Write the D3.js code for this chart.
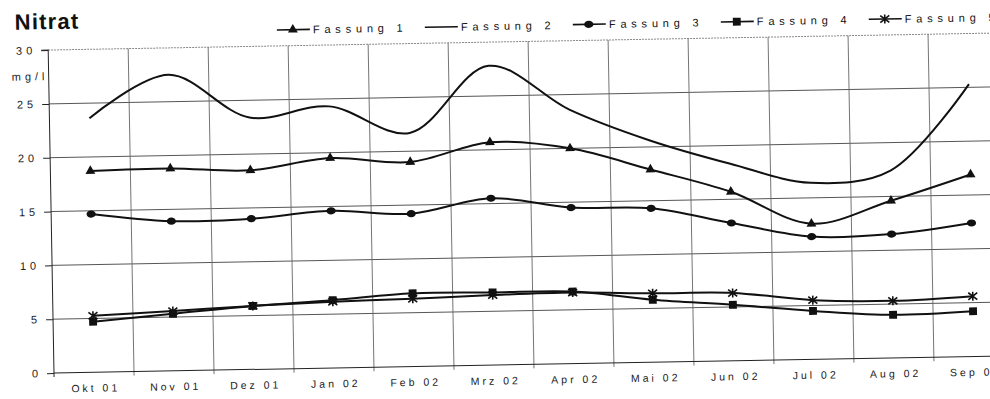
<!DOCTYPE html>
<html>
<head>
<meta charset="utf-8">
<script src="https://cdn.jsdelivr.net/npm/d3@7"></script>
<style>
    body { margin: 0; background: #fff; }
    svg { display: block; font-family: "Liberation Sans", Arial, sans-serif; }
</style>
</head>
<body>
<div id="chart"></div>
<script>
// month categories (x axis)
const months = ["Okt 01", "Nov 01", "Dez 01", "Jan 02", "Feb 02", "Mrz 02",
                "Apr 02", "Mai 02", "Jun 02", "Jul 02", "Aug 02", "Sep 02"];

// nitrate values in mg/l
const fassung1 = [18.7, 18.8, 18.5, 19.5, 19.0, 20.7, 20.0, 17.9, 15.7, 12.6, 14.6, 16.9];
const fassung2 = [23.6, 27.5, 23.4, 24.3, 21.7, 27.8, 23.6, 20.6, 18.3, 16.4, 17.4, 25.3];
const fassung3 = [14.7, 13.9, 14.0, 14.6, 14.2, 15.5, 14.5, 14.3, 12.8, 11.4, 11.5, 12.4];
const fassung4 = [4.7, 5.3, 5.9, 6.3, 6.8, 6.75, 6.7, 5.8, 5.2, 4.5, 4.0, 4.2];
const fassung5 = [5.25, 5.55, 5.9, 6.15, 6.3, 6.5, 6.6, 6.4, 6.3, 5.5, 5.3, 5.6];

const yTicks = [0, 5, 10, 15, 20, 25, 30];

const series = [
    { name: "Fassung 1", values: fassung1, marker: "triangle" },
    { name: "Fassung 2", values: fassung2, marker: "none" },
    { name: "Fassung 3", values: fassung3, marker: "circle" },
    { name: "Fassung 4", values: fassung4, marker: "square" },
    { name: "Fassung 5", values: fassung5, marker: "star" }
];

const width = 990, height = 399;
const x0 = 54, y0 = 373; // axis origin (the scan is tilted a bit around here)

const svg = d3.select("#chart").append("svg")
    .attr("width", width)
    .attr("height", height);

// whole sheet is rotated slightly, like the scanned page
const g = svg.append("g")
    .attr("transform", `rotate(-1.03, ${x0}, ${y0})`);

const x = d3.scaleBand()
    .domain(months)
    .range([x0, x0 + 960])
    .padding(0);

const y = d3.scaleLinear()
    .domain([0, 30])
    .range([y0, 50]);

// title
g.append("text")
    .attr("x", 21)
    .attr("y", 29)
    .attr("font-size", 22)
    .attr("font-weight", "bold")
    .attr("letter-spacing", 1.2)
    .attr("fill", "#111")
    .text("Nitrat");

// horizontal grid lines
g.append("g")
    .selectAll("line")
    .data(yTicks.filter(d => d > 0))
    .join("line")
    .attr("x1", x0)
    .attr("x2", x0 + 960)
    .attr("y1", d => y(d))
    .attr("y2", d => y(d))
    .attr("stroke", d => d === 30 ? "#888" : "#444")
    .attr("stroke-width", d => d === 30 ? 1 : 0.9)
    .attr("stroke-dasharray", d => d === 30 ? "2,1" : null);

// vertical grid lines between the months (they also make the x ticks)
g.append("g")
    .selectAll("line")
    .data(months.slice(1))
    .join("line")
    .attr("x1", d => x(d))
    .attr("x2", d => x(d))
    .attr("y1", y(30))
    .attr("y2", y0 + 4)
    .attr("stroke", "#666")
    .attr("stroke-width", 0.9);

// y axis
const yAxis = g.append("g")
    .attr("transform", `translate(${x0},0)`)
    .call(d3.axisLeft(y).tickValues(yTicks).tickSize(7).tickPadding(5).tickFormat(d3.format("d")));
yAxis.select(".domain").attr("stroke", "#222").attr("d", `M-7,${y(30)}H0V${y0 + 4}`);
yAxis.selectAll(".tick line").attr("stroke", "#222");
yAxis.selectAll("text")
    .attr("font-size", 11)
    .attr("letter-spacing", 4)
    .attr("fill", "#222");

g.append("text")
    .attr("x", 17)
    .attr("y", 80)
    .attr("font-size", 11)
    .attr("letter-spacing", 4)
    .attr("fill", "#222")
    .text("mg/l");

// x axis
const xAxis = g.append("g")
    .attr("transform", `translate(0,${y0})`)
    .call(d3.axisBottom(x).tickSize(0).tickPadding(12));
xAxis.select(".domain").attr("stroke", "#222").attr("d", `M${x0},0H${x0 + 960}`);
xAxis.selectAll("text")
    .attr("font-size", 10.5)
    .attr("letter-spacing", 3)
    .attr("dx", 1.5)
    .attr("fill", "#222");

// lines
const line = d3.line()
    .x((d, i) => x(months[i]) + x.bandwidth() / 2)
    .y(d => y(d))
    .curve(d3.curveCatmullRom);

g.append("g")
    .selectAll("path")
    .data(series)
    .join("path")
    .attr("d", d => line(d.values))
    .attr("fill", "none")
    .attr("stroke", "#111")
    .attr("stroke-width", 2);

// marker drawing
function drawMarker(sel, type) {
    if (type === "triangle") {
        sel.append("path").attr("d", d3.symbol().type(d3.symbolTriangle).size(42)()).attr("fill", "#111");
    } else if (type === "square") {
        sel.append("path").attr("d", d3.symbol().type(d3.symbolSquare).size(62)()).attr("fill", "#111");
    } else if (type === "circle") {
        sel.append("ellipse").attr("rx", 4.6).attr("ry", 3.6).attr("fill", "#111");
    } else if (type === "star") {
        sel.append("path")
            .attr("d", "M-4.5,-3.5L4.5,3.5M-4.5,3.5L4.5,-3.5M0,-4.5L0,4.5")
            .attr("stroke", "#111")
            .attr("stroke-width", 1.6)
            .attr("fill", "none");
    }
}

series.filter(s => s.marker !== "none").forEach(s => {
    g.append("g")
        .selectAll("g")
        .data(s.values)
        .join("g")
        .attr("transform", (d, i) => `translate(${x(months[i]) + x.bandwidth() / 2},${y(d)})`)
        .each(function () { drawMarker(d3.select(this), s.marker); });
});

// legend
const legend = g.append("g")
    .selectAll("g")
    .data(series)
    .join("g")
    .attr("transform", (d, i) => `translate(${283 + i * 148},34)`);

legend.append("line")
    .attr("x1", 0)
    .attr("x2", 33)
    .attr("stroke", "#111")
    .attr("stroke-width", 1.6);

legend.append("g")
    .attr("transform", "translate(16,0)")
    .each(function (d) { drawMarker(d3.select(this), d.marker); });

legend.append("text")
    .attr("x", 36)
    .attr("y", 4)
    .attr("font-size", 11)
    .attr("letter-spacing", 4.8)
    .attr("fill", "#111")
    .text(d => d.name);
</script>
</body>
</html>
